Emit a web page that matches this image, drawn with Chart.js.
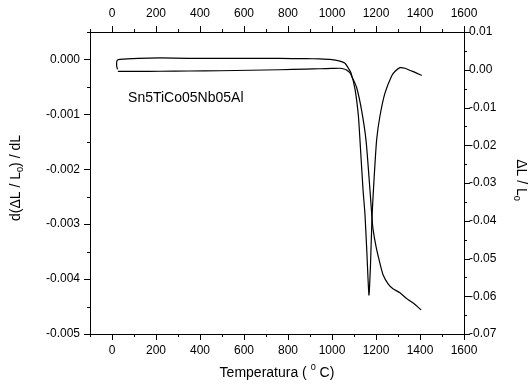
<!DOCTYPE html>
<html>
<head>
<meta charset="utf-8">
<script src="https://cdn.jsdelivr.net/npm/chart.js@4.4.1/dist/chart.umd.min.js"></script>
<style>
  body { margin: 0; background: #fff; }
</style>
</head>
<body>
<canvas id="dilChart" width="530" height="390"></canvas>
<script>
// derivative curve d(dL/L0)/dL  (left axis)
const derivTemp = [25, 21, 23, 36, 120, 218, 350, 491, 630, 764, 880, 945, 991, 1036, 1059, 1073, 1086, 1105, 1120, 1127, 1141, 1150, 1159, 1168, 1175, 1182, 1191, 1203, 1218, 1241, 1271, 1286, 1309, 1332, 1355, 1380, 1408];
const derivVal  = [-0.00018, -0.00011, -0.00002, 0.0, 0.00002, 0.000027, 0.00002, 0.000018, 0.000018, 0.000018, 0.000015, 0.00001, 0.0, -0.00003, -0.00007, -0.00015, -0.00024, -0.00055, -0.00103, -0.00146, -0.00237, -0.00283, -0.00356, -0.00429, -0.00374, -0.00286, -0.00219, -0.00146, -0.00103, -0.00061, -0.0003, -0.00022, -0.00015, -0.00016, -0.0002, -0.00024, -0.00029];

// dL/L0 curve (right axis)
const dlTemp = [27, 120, 218, 350, 491, 630, 764, 880, 945, 1000, 1036, 1055, 1064, 1082, 1091, 1112, 1135, 1155, 1173, 1182, 1186, 1200, 1218, 1232, 1255, 1277, 1309, 1341, 1373, 1405];
const dlVal  = [-0.00045, -0.00043, -0.0004, -0.00033, -0.00027, -0.00013, 0.0, 0.00018, 0.00027, 0.00035, 0.0004, 0.0002, 0.0, -0.0008, -0.0019, -0.0047, -0.0109, -0.0189, -0.0322, -0.0394, -0.042, -0.0468, -0.0513, -0.0543, -0.0567, -0.058, -0.0591, -0.0607, -0.062, -0.0636];

// ticks
const xMajor = [0, 200, 400, 600, 800, 1000, 1200, 1400, 1600];
const xLabels = ['0', '200', '400', '600', '800', '1000', '1200', '1400', '1600'];
const xMinor = [-100, 100, 300, 500, 700, 900, 1100, 1300, 1500];
const leftMajor = [0, -0.001, -0.002, -0.003, -0.004, -0.005];
const leftLabels = ['0.000', '-0.001', '-0.002', '-0.003', '-0.004', '-0.005'];
const leftMinor = [0.0005, -0.0005, -0.0015, -0.0025, -0.0035, -0.0045];
const rightMajor = [0.01, 0, -0.01, -0.02, -0.03, -0.04, -0.05, -0.06, -0.07];
const rightLabels = ['0.01', '0.00', '-0.01', '-0.02', '-0.03', '-0.04', '-0.05', '-0.06', '-0.07'];
const rightMinor = [0.005, -0.005, -0.015, -0.025, -0.035, -0.045, -0.055, -0.065];

const FONT = '"Liberation Sans", Arial, sans-serif';

// text with sub/superscript pieces, centred at (x, y), rotated by rot
function richText(ctx, parts, x, y, rot, size) {
  ctx.save();
  ctx.translate(x, y);
  ctx.rotate(rot);
  ctx.textBaseline = 'middle';
  ctx.textAlign = 'left';
  let w = 0;
  parts.forEach(p => {
    ctx.font = (p.sub || p.sup ? size * 0.65 : size) + 'px ' + FONT;
    p.w = ctx.measureText(p.t).width;
    w += p.w;
  });
  let cx = -w / 2;
  parts.forEach(p => {
    ctx.font = (p.sub || p.sup ? size * 0.65 : size) + 'px ' + FONT;
    const dy = p.sub ? size * 0.3 : p.sup ? -size * 0.38 : 0;
    ctx.fillText(p.t, cx, dy);
    cx += p.w;
  });
  ctx.restore();
}

const frame = {
  id: 'frame',
  afterDraw(chart) {
    const { ctx, chartArea: a, scales } = chart;
    ctx.save();
    ctx.strokeStyle = '#000';
    ctx.lineWidth = 1;
    ctx.beginPath();
    const seg = (x1, y1, x2, y2) => { ctx.moveTo(x1, y1); ctx.lineTo(x2, y2); };
    const xt = (vals, len) => vals.forEach(v => {
      const p = Math.round(scales.x.getPixelForValue(v)) + 0.5;
      seg(p, a.bottom, p, a.bottom + len);
      seg(p, a.top, p, a.top - len);
    });
    xt(xMajor, 6); xt(xMinor, 3);
    const yl = (vals, len) => vals.forEach(v => {
      const p = Math.round(scales.y.getPixelForValue(v)) + 0.5;
      seg(a.left, p, a.left - len, p);
    });
    yl(leftMajor, 6); yl(leftMinor, 3);
    const yr = (vals, len) => vals.forEach(v => {
      const p = Math.round(scales.y2.getPixelForValue(v)) + 0.5;
      seg(a.right, p, a.right + len, p);
    });
    yr(rightMajor, 6); yr(rightMinor, 3);
    ctx.stroke();

    ctx.fillStyle = '#000';
    richText(ctx, [{ t: 'Temperatura ( ' }, { t: '0', sup: true }, { t: ' C)' }],
      (a.left + a.right) / 2, 373, 0, 14);
    richText(ctx, [{ t: 'd(\u0394L / L' }, { t: '0', sub: true }, { t: ') / dL' }],
      16, 178, -Math.PI / 2, 14);
    richText(ctx, [{ t: '\u0394L / L' }, { t: '0', sub: true }],
      521, 180, Math.PI / 2, 14);

    // sample label
    ctx.font = '14px ' + FONT;
    ctx.textAlign = 'left';
    ctx.textBaseline = 'middle';
    ctx.fillText('Sn5TiCo05Nb05Al', scales.x.getPixelForValue(73), scales.y.getPixelForValue(-0.00071));
    ctx.restore();
  }
};

const tickFont = { family: FONT, size: 12 };

new Chart(document.getElementById('dilChart'), {
  type: 'line',
  data: {
    datasets: [
      {
        label: 'deriv',
        data: derivTemp.map((t, i) => ({ x: t, y: derivVal[i] })),
        yAxisID: 'y',
        borderColor: '#000',
        borderWidth: 1.2,
        pointRadius: 0,
        tension: 0.2
      },
      {
        label: 'dL',
        data: dlTemp.map((t, i) => ({ x: t, y: dlVal[i] })),
        yAxisID: 'y2',
        borderColor: '#000',
        borderWidth: 1.2,
        pointRadius: 0,
        tension: 0.2
      }
    ]
  },
  options: {
    responsive: false,
    devicePixelRatio: 1,
    animation: false,
    layout: { padding: 0 },
    plugins: { legend: { display: false }, tooltip: { enabled: false } },
    scales: {
      x: {
        type: 'linear', position: 'bottom', min: -100, max: 1600,
        afterBuildTicks: s => { s.ticks = xMajor.map(v => ({ value: v })); },
        afterFit: s => { s.height = 56; },
        ticks: { color: '#000', font: tickFont, padding: 9, maxRotation: 0, callback: (v, i) => xLabels[i] },
        grid: { display: false, drawTicks: false },
        border: { display: true, color: '#000', width: 1 }
      },
      x2: {
        type: 'linear', position: 'top', min: -100, max: 1600,
        afterBuildTicks: s => { s.ticks = xMajor.map(v => ({ value: v })); },
        afterFit: s => { s.height = 32; },
        ticks: { color: '#000', font: tickFont, padding: 11, maxRotation: 0, callback: (v, i) => xLabels[i] },
        grid: { display: false, drawTicks: false },
        border: { display: true, color: '#000', width: 1 }
      },
      y: {
        type: 'linear', position: 'left', min: -0.005, max: 0.0005,
        afterBuildTicks: s => { s.ticks = leftMajor.map(v => ({ value: v })); },
        afterFit: s => { s.width = 90; },
        ticks: { color: '#000', font: tickFont, padding: 10, callback: (v, i) => leftLabels[i] },
        grid: { display: false, drawTicks: false },
        border: { display: true, color: '#000', width: 1 }
      },
      y2: {
        type: 'linear', position: 'right', min: -0.07, max: 0.01,
        afterBuildTicks: s => { s.ticks = rightMajor.map(v => ({ value: v })); },
        afterFit: s => { s.width = 66; },
        ticks: { color: '#000', font: tickFont, padding: 5, callback: (v, i) => rightLabels[i] },
        grid: { display: false, drawTicks: false },
        border: { display: true, color: '#000', width: 1 }
      }
    }
  },
  plugins: [frame]
});
</script>
</body>
</html>
